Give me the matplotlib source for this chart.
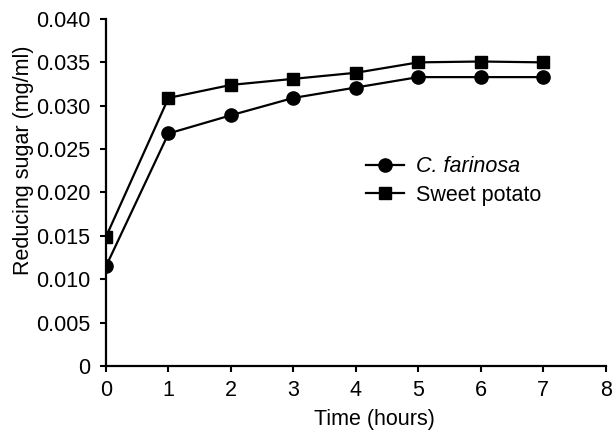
import matplotlib
matplotlib.use("Agg")
import matplotlib.pyplot as plt

hours = [0, 1, 2, 3, 4, 5, 6, 7]
c_farinosa = [0.0115, 0.0268, 0.0289, 0.0309, 0.0321, 0.0333, 0.0333, 0.0333]
sweet_potato = [0.0149, 0.0309, 0.0324, 0.0331, 0.0338, 0.0350, 0.0351, 0.0350]
x_ticks = [0, 1, 2, 3, 4, 5, 6, 7, 8]
y_ticks = [0, 0.005, 0.010, 0.015, 0.020, 0.025, 0.030, 0.035, 0.040]
y_labels = ["0", "0.005", "0.010", "0.015", "0.020", "0.025", "0.030", "0.035", "0.040"]

FS = 15.5
plt.rcParams['font.family'] = ['Liberation Sans', 'DejaVu Sans']
fig = plt.figure(figsize=(6.13, 4.32), dpi=100)
ax = fig.add_axes([0.173, 0.153, 0.815, 0.803])

ax.plot(hours, c_farinosa, color='black', lw=1.6, marker='o', ms=9.5, label='C. farinosa')
ax.plot(hours, sweet_potato, color='black', lw=1.6, marker='s', ms=8, label='Sweet potato')

ax.set_xlim(0, 8)
ax.set_ylim(0, 0.040)
ax.set_xticks(x_ticks)
ax.set_yticks(y_ticks)
ax.set_yticklabels(y_labels)
ax.tick_params(labelsize=FS, length=4.5, width=1.5, direction='out', colors='black')
ax.tick_params(axis='y', pad=7)
ax.tick_params(axis='x', pad=6)
for s in ['top', 'right']:
    ax.spines[s].set_visible(False)
for s in ['left', 'bottom']:
    ax.spines[s].set_linewidth(1.6)
ax.set_xlabel('Time (hours)', fontsize=FS)
ax.set_ylabel('Reducing sugar (mg/ml)', fontsize=FS)
ax.xaxis.set_label_coords(0.538, -0.125)
ax.yaxis.set_label_coords(-0.144, 0.594)

leg = ax.legend(loc='center left', bbox_to_anchor=(0.52, 0.533), frameon=False, fontsize=FS,
                handlelength=1.75, handletextpad=0.6, labelspacing=0.35, borderaxespad=0,
                borderpad=0)
leg.get_texts()[0].set_fontstyle('italic')

fig.savefig('out.png', dpi=100)
